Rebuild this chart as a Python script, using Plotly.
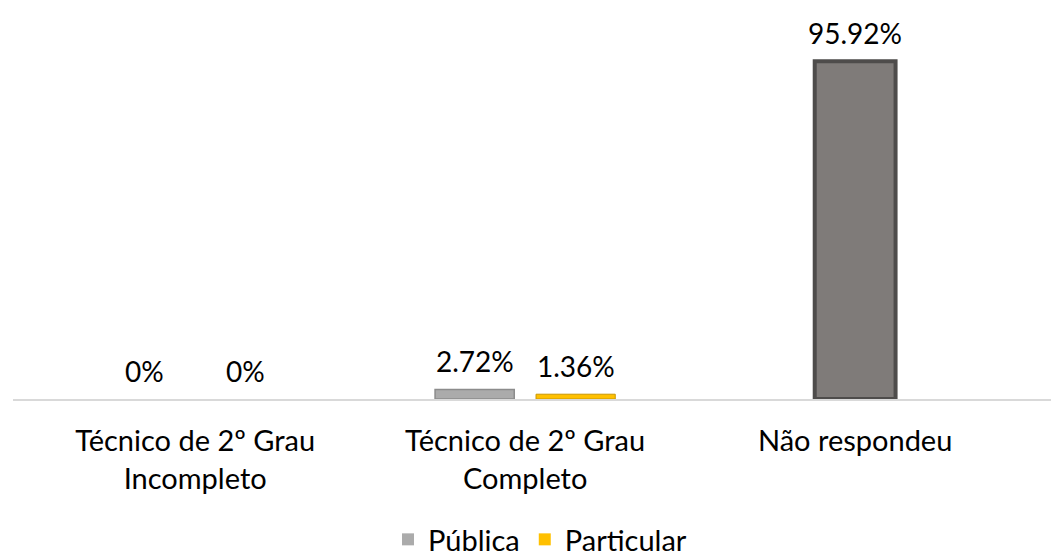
import plotly.graph_objects as go

categories = ["Técnico de 2º Grau<br>Incompleto", "Técnico de 2º Grau<br>Completo", "Não respondeu"]
publica = [0, 2.72, None]
particular = [0, 1.36, None]
nao_respondeu = [None, None, 95.92]
series_names = ["Pública", "Particular"]

FONT = "Lato"
PX_PER_UNIT = 330.0
BAR_W = 0.24
OFF_PUB = -0.273
OFF_PAR = 0.033
OFF_NR = -0.1225


def line_widths(vals, w):
    return [w if (v is not None and v > 0) else 0 for v in vals]


fig = go.Figure()
fig.add_trace(go.Bar(
    x=categories, y=publica, name=series_names[0],
    marker=dict(color="#ABABAB", line=dict(color="#8C8C8C", width=line_widths(publica, 1.5))),
    width=BAR_W, offset=OFF_PUB,
))
fig.add_trace(go.Bar(
    x=categories, y=particular, name=series_names[1],
    marker=dict(color="#FFC000", line=dict(color="#C99700", width=line_widths(particular, 1))),
    width=BAR_W, offset=OFF_PAR,
))
fig.add_trace(go.Bar(
    x=categories, y=nao_respondeu, name="Não respondeu", showlegend=False,
    marker=dict(color="#7F7B79", line=dict(color="#4E4C4B", width=4)),
    width=0.245, offset=OFF_NR,
))

annotations = []
for vals, off, w in [(publica, OFF_PUB, BAR_W), (particular, OFF_PAR, BAR_W), (nao_respondeu, OFF_NR, 0.245)]:
    for cat, v in zip(categories, vals):
        if v is None:
            continue
        annotations.append(dict(
            x=cat, y=v, xref="x", yref="y", text=f"{v:g}%", showarrow=False,
            xshift=(off + w / 2) * PX_PER_UNIT, yanchor="bottom", yshift=9,
            font=dict(family=FONT, size=28, color="#000000"),
        ))

fig.update_layout(
    width=1059, height=557,
    margin=dict(l=5, r=0, t=20, b=159),
    paper_bgcolor="white", plot_bgcolor="white",
    barmode="overlay",
    font=dict(family=FONT, size=29, color="#000000"),
    annotations=annotations,
    xaxis=dict(
        type="category", range=[-0.552, 2.642], automargin=False,
        showline=True, linecolor="#D9D9D9", linewidth=2,
        showgrid=False, ticks="outside", ticklen=15, tickcolor="rgba(0,0,0,0)",
        tickfont=dict(family=FONT, size=29, color="#000000"),
        zeroline=False,
    ),
    yaxis=dict(range=[0, 105.4], visible=False, showgrid=False, zeroline=False, automargin=False),
    legend=dict(orientation="h", x=0.5, xanchor="center", y=-0.38, yanchor="middle",
                font=dict(family=FONT, size=29, color="#000000"),
                itemwidth=30, tracegroupgap=0),
    showlegend=True,
)

fig.write_html("out.html")
